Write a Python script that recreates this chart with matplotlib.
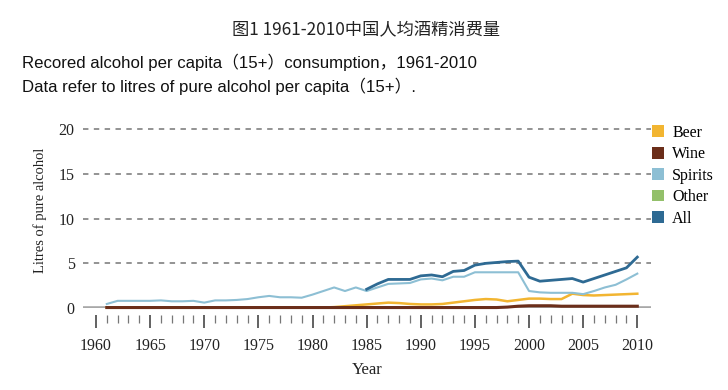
import matplotlib
matplotlib.use('Agg')
import matplotlib.pyplot as plt
from matplotlib.patches import Patch

# Datos (litros de alcohol puro per capita, 15+)
years = list(range(1961, 2011))
years_all = list(range(1985, 2011))

spirits = [0.45, 0.8, 0.8, 0.8, 0.8, 0.85, 0.75, 0.75, 0.8, 0.6,
           0.85, 0.85, 0.9, 1.0, 1.2, 1.35, 1.2, 1.2, 1.15, 1.5,
           1.9, 2.3, 1.9, 2.3, 1.9, 2.3, 2.7, 2.75, 2.8, 3.2,
           3.3, 3.1, 3.5, 3.5, 4.0, 4.0, 4.0, 4.0, 4.0, 1.9,
           1.75, 1.7, 1.7, 1.7, 1.55, 1.9, 2.3, 2.6, 3.2, 3.85]

beer = [0.05, 0.05, 0.05, 0.05, 0.05, 0.05, 0.05, 0.05, 0.05, 0.05,
        0.05, 0.05, 0.05, 0.05, 0.05, 0.05, 0.05, 0.05, 0.05, 0.05,
        0.05, 0.1, 0.2, 0.3, 0.4, 0.5, 0.6, 0.55, 0.45, 0.4,
        0.4, 0.45, 0.6, 0.75, 0.9, 1.0, 0.95, 0.75, 0.9, 1.05,
        1.05, 1.0, 1.0, 1.6, 1.45, 1.4, 1.45, 1.5, 1.55, 1.6]

wine = [0.05, 0.05, 0.05, 0.05, 0.05, 0.05, 0.05, 0.05, 0.05, 0.05,
        0.05, 0.05, 0.05, 0.05, 0.05, 0.05, 0.05, 0.05, 0.05, 0.05,
        0.05, 0.05, 0.05, 0.05, 0.05, 0.05, 0.05, 0.05, 0.05, 0.05,
        0.05, 0.05, 0.05, 0.05, 0.05, 0.05, 0.05, 0.1, 0.2, 0.25,
        0.25, 0.25, 0.2, 0.2, 0.2, 0.2, 0.2, 0.2, 0.2, 0.2]

other = [0.0] * 50

all_bev = [2.1, 2.7, 3.2, 3.2, 3.2, 3.6, 3.7, 3.5, 4.1, 4.2,
           4.8, 5.0, 5.1, 5.2, 5.25, 3.45, 3.0, 3.1, 3.2, 3.3,
           2.9, 3.3, 3.7, 4.1, 4.5, 5.7]

series_names = ['Beer', 'Wine', 'Spirits', 'Other', 'All']
colores = ['#f2b531', '#6b2e1a', '#8dbfd4', '#93c06a', '#2e6a93']

yticks = [0, 5, 10, 15, 20]
xticks = list(range(1960, 2011, 5))

serif = 'Liberation Serif'
cjk = ['Liberation Sans', 'Noto Sans CJK SC']

fig = plt.figure(figsize=(7.28, 3.90), dpi=100)

# Titulos
fig.text(0.503, 0.922, '图1 1961-2010中国人均酒精消费量', ha='center', va='center',
         fontsize=12.4, family=['Noto Sans CJK SC', 'DejaVu Sans'], color='#222222')
fig.text(0.030, 0.840, 'Recored alcohol per capita（15+）consumption，1961-2010',
         ha='left', va='center', fontsize=12.1, family=cjk, color='#111111')
fig.text(0.030, 0.779, 'Data refer to litres of pure alcohol per capita（15+）.',
         ha='left', va='center', fontsize=12.1, family=cjk, color='#111111')

ax = fig.add_axes([0.114, 0.2103, 0.780, 0.4577])

ax.axhline(0, color='#a8a8a8', lw=2.6, zorder=1)
for y in yticks[1:]:
    ax.axhline(y, color='#8a8a8a', lw=1.3, ls=(0, (3, 3)), zorder=1, clip_on=False)

ax.plot(years, other, color=colores[3], lw=1.5, zorder=0.5)
ax.plot(years, beer, color=colores[0], lw=1.8, zorder=2.9, clip_on=False)
ax.plot(years, wine, color=colores[1], lw=2.2, zorder=3, clip_on=False)
ax.plot(years, spirits, color=colores[2], lw=1.5, zorder=3)
ax.plot(years_all, all_bev, color=colores[4], lw=2.0, zorder=4)

ax.set_xlim(1958.8, 2011.25)
ax.set_ylim(0, 20)

for s in ['top', 'right', 'left']:
    ax.spines[s].set_visible(False)
ax.spines['bottom'].set_position(('outward', 5))
ax.spines['bottom'].set_visible(False)

ax.set_xticks(xticks)
ax.set_xticks(years, minor=True)
ax.tick_params(axis='x', which='major', length=9.5, width=1.3, color='#555555',
               pad=7, labelsize=11.5, labelcolor='#222222')
ax.tick_params(axis='x', which='minor', length=6, width=0.9, color='#777777')
ax.set_yticks(yticks)
ax.tick_params(axis='y', length=0, pad=6, labelsize=11.5, labelcolor='#222222')
for lab in ax.get_xticklabels() + ax.get_yticklabels():
    lab.set_family(serif)

ax.set_xlabel('Year', family=serif, fontsize=12, color='#222222', labelpad=6)
ax.set_ylabel('Litres of pure alcohol', family=serif, fontsize=10.5, color='#222222')
ax.yaxis.set_label_coords(-0.064, 0.545)

handles = [Patch(facecolor=c, edgecolor='none') for c in colores]
ax.legend(handles, series_names, loc='upper left', bbox_to_anchor=(0.895, 0.680),
          bbox_transform=fig.transFigure, frameon=False, handlelength=0.75,
          handleheight=0.75, handletextpad=0.55, labelspacing=0.34, borderpad=0,
          borderaxespad=0, prop={'family': serif, 'size': 11.5})

fig.savefig('out.png', dpi=100)
